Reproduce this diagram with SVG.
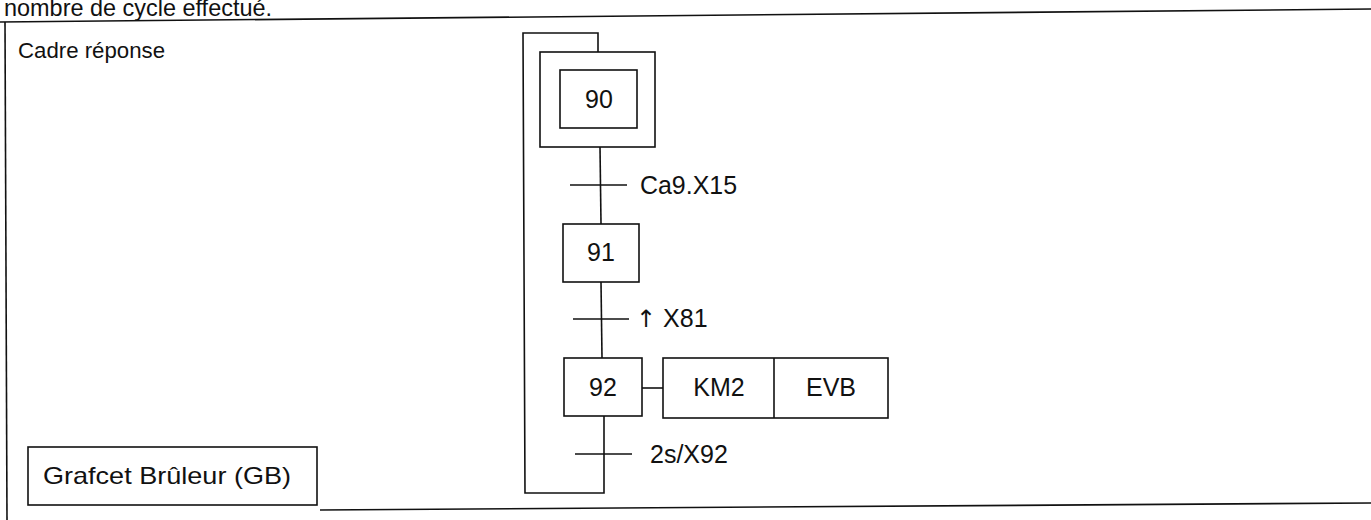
<svg xmlns="http://www.w3.org/2000/svg" width="1371" height="520" viewBox="0 0 1371 520">
<style>
.l{stroke:#111;stroke-width:1.6;fill:none}
.b{stroke:#111;stroke-width:1.6;fill:#fff}
text{font-family:"Liberation Sans",Arial,sans-serif;fill:#111}
.s{font-size:25px;text-anchor:middle}
.t{font-size:25px}
.a{font-family:"DejaVu Sans",sans-serif;font-size:24px}
</style>
<g id="frame">
<text x="4" y="16" font-size="24" textLength="268" lengthAdjust="spacingAndGlyphs">nombre de cycle effectué.</text>
<line class="l" x1="0" y1="22" x2="1371" y2="9"/>
<line class="l" x1="5" y1="22" x2="7" y2="520"/>
<line class="l" x1="320" y1="510" x2="1371" y2="503"/>
<text x="18" y="58" font-size="22" textLength="147" lengthAdjust="spacingAndGlyphs">Cadre réponse</text>
</g>
<g id="title">
<rect class="b" x="28" y="447" width="289" height="58"/>
<text x="43" y="484" font-size="24" textLength="248" lengthAdjust="spacingAndGlyphs">Grafcet Brûleur (GB)</text>
</g>
<g id="connectors">
<polyline class="l" points="598,52 598,33 523,33 525,493 604,493 604,416"/>
<line class="l" x1="600" y1="147" x2="601" y2="224"/>
<line class="l" x1="601" y1="282" x2="602" y2="358"/>
<line class="l" x1="570" y1="185" x2="627" y2="185"/>
<line class="l" x1="573" y1="319" x2="629" y2="319"/>
<line class="l" x1="575" y1="454" x2="632" y2="454"/>
<line class="l" x1="642" y1="388" x2="663" y2="388"/>
<text class="t" x="640" y="194" textLength="97" lengthAdjust="spacingAndGlyphs">Ca9.X15</text>
<text class="t" x="636" y="327"><tspan class="a">↑</tspan> X81</text>
<text class="t" x="650" y="463">2s/X92</text>
</g>
<g id="step90">
<rect class="b" x="540" y="52" width="115" height="95"/>
<rect class="b" x="560" y="70" width="77" height="58"/>
<text class="s" x="599" y="108">90</text>
</g>
<g id="step91">
<rect class="b" x="563" y="224" width="76" height="58"/>
<text class="s" x="601" y="261">91</text>
</g>
<g id="step92">
<rect class="b" x="564" y="358" width="78" height="58"/>
<text class="s" x="603" y="396">92</text>
</g>
<g id="action92">
<rect class="b" x="663" y="358" width="225" height="60"/>
<line class="l" x1="774" y1="358" x2="774" y2="418"/>
<text class="s" x="719" y="396">KM2</text>
<text class="s" x="831" y="396">EVB</text>
</g>
</svg>
